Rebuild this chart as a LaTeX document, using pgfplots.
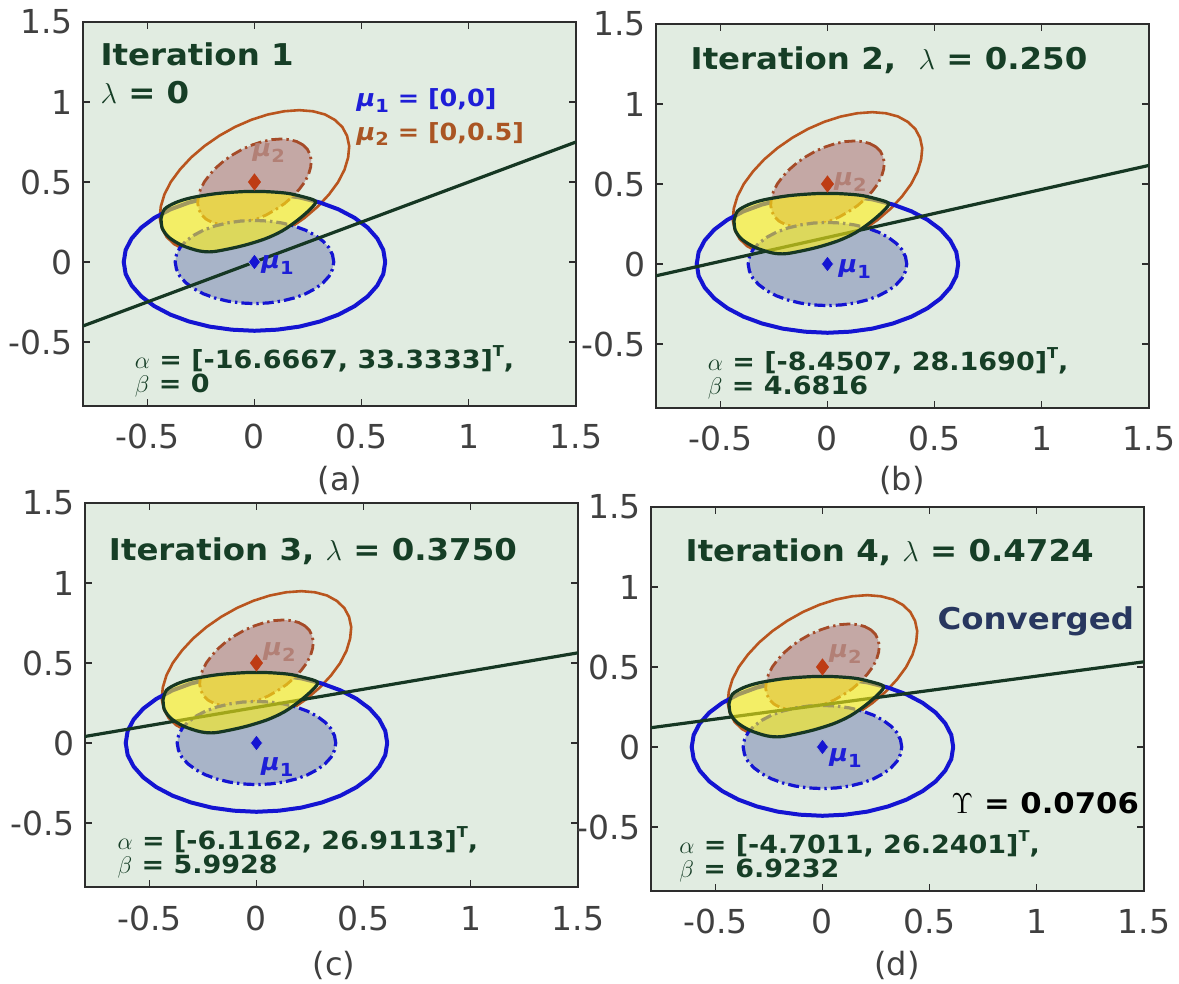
\documentclass[border=0pt]{standalone}
\usepackage{fontspec}
\usepackage{pgfplots}
\usepackage{pgfplotstable}
\pgfplotsset{compat=1.18}

\newfontfamily\djv[FakeStretch=1.08,
  BoldFont={DejaVu Sans Bold},
  ItalicFont={DejaVu Sans Oblique},
  BoldItalicFont={DejaVu Sans Bold Oblique}]{DejaVu Sans}
\newfontfamily\djvplain{DejaVu Sans}

% colours
\definecolor{bgcol}{RGB}{225,236,225}
\definecolor{axgray}{RGB}{45,45,45}
\definecolor{tickgray}{RGB}{64,64,64}
\definecolor{tgreen}{RGB}{22,62,38}
\definecolor{lgreen}{RGB}{22,55,35}
\definecolor{blout}{RGB}{20,20,210}
\definecolor{blfill}{RGB}{168,180,200}
\definecolor{orout}{RGB}{185,85,30}
\definecolor{orin}{RGB}{165,75,40}
\definecolor{orfill}{RGB}{196,168,165}
\definecolor{lensyellow}{RGB}{255,240,20}
\definecolor{mublue}{RGB}{30,30,215}
\definecolor{mubrown}{RGB}{170,85,35}
\definecolor{mufade}{RGB}{178,128,118}
\definecolor{mu2mark}{RGB}{190,60,20}
\definecolor{conv}{RGB}{40,55,95}

\newcommand\tickfont{\djvplain\fontsize{16.5pt}{18pt}\selectfont}
\newcommand\titlefont{\djv\bfseries\fontsize{15pt}{18pt}\selectfont}
\newcommand\notefont{\djv\bfseries\fontsize{11.8pt}{14pt}\selectfont}
\newcommand\abfont{\djv\bfseries\fontsize{12.5pt}{14pt}\selectfont}
\newcommand\upsfont{\djv\bfseries\fontsize{14.2pt}{17pt}\selectfont}
\newcommand\capfont{\djvplain\fontsize{16pt}{18pt}\selectfont}
\newcommand\mus[1]{{\itshape μ}\raisebox{-0.45ex}{\fontsize{9pt}{9pt}\selectfont #1}}
\newcommand\supT{\raisebox{0.9ex}{\fontsize{7.5pt}{8pt}\selectfont T}}

% class 1 contours, centred at (0,0)
\pgfplotstableread{
x y
0.610 0.000
0.601 0.075
0.573 0.147
0.528 0.215
0.467 0.276
0.392 0.329
0.305 0.372
0.209 0.404
0.106 0.423
0.000 0.430
-0.106 0.423
-0.209 0.404
-0.305 0.372
-0.392 0.329
-0.467 0.276
-0.528 0.215
-0.573 0.147
-0.601 0.075
-0.610 0.000
-0.601 -0.075
-0.573 -0.147
-0.528 -0.215
-0.467 -0.276
-0.392 -0.329
-0.305 -0.372
-0.209 -0.404
-0.106 -0.423
0.000 -0.430
0.106 -0.423
0.209 -0.404
0.305 -0.372
0.392 -0.329
0.467 -0.276
0.528 -0.215
0.573 -0.147
0.601 -0.075
0.610 0.000
}\blueouter

\pgfplotstableread{
x y
0.370 0.000
0.364 0.045
0.348 0.089
0.320 0.130
0.283 0.167
0.238 0.199
0.185 0.225
0.127 0.244
0.064 0.256
0.000 0.260
-0.064 0.256
-0.127 0.244
-0.185 0.225
-0.238 0.199
-0.283 0.167
-0.320 0.130
-0.348 0.089
-0.364 0.045
-0.370 0.000
-0.364 -0.045
-0.348 -0.089
-0.320 -0.130
-0.283 -0.167
-0.238 -0.199
-0.185 -0.225
-0.127 -0.244
-0.064 -0.256
0.000 -0.260
0.064 -0.256
0.127 -0.244
0.185 -0.225
0.238 -0.199
0.283 -0.167
0.320 -0.130
0.348 -0.089
0.364 -0.045
0.370 0.000
}\blueinner

% class 2 contours, centred at (0,0.5)
\pgfplotstableread{
x y
0.375 0.888
0.329 0.922
0.273 0.942
0.209 0.949
0.138 0.942
0.063 0.922
-0.014 0.889
-0.091 0.844
-0.164 0.789
-0.233 0.725
-0.295 0.654
-0.347 0.579
-0.390 0.501
-0.420 0.423
-0.437 0.347
-0.442 0.276
-0.432 0.212
-0.410 0.157
-0.375 0.112
-0.329 0.078
-0.273 0.058
-0.209 0.051
-0.138 0.058
-0.063 0.078
0.014 0.111
0.091 0.156
0.164 0.211
0.233 0.275
0.295 0.346
0.347 0.421
0.390 0.499
0.420 0.577
0.437 0.653
0.442 0.724
0.432 0.788
0.410 0.843
0.375 0.888
}\orangeouter

\pgfplotstableread{
x y
0.225 0.733
0.197 0.753
0.164 0.765
0.125 0.769
0.083 0.765
0.038 0.753
-0.008 0.733
-0.055 0.706
-0.098 0.673
-0.140 0.635
-0.177 0.592
-0.208 0.547
-0.234 0.501
-0.252 0.454
-0.262 0.408
-0.265 0.366
-0.259 0.327
-0.246 0.294
-0.225 0.267
-0.197 0.247
-0.164 0.235
-0.125 0.231
-0.083 0.235
-0.038 0.247
0.008 0.267
0.055 0.294
0.098 0.327
0.140 0.365
0.177 0.408
0.208 0.453
0.234 0.499
0.252 0.546
0.262 0.592
0.265 0.634
0.259 0.673
0.246 0.706
0.225 0.733
}\orangeinner

% overlap region
\pgfplotstableread{
x y
-0.436 0.270
-0.420 0.330
-0.370 0.370
-0.300 0.400
-0.180 0.427
-0.050 0.440
0.050 0.440
0.150 0.430
0.220 0.410
0.285 0.380
0.260 0.330
0.200 0.260
0.130 0.195
0.050 0.145
-0.060 0.100
-0.190 0.065
-0.260 0.070
-0.340 0.105
-0.400 0.155
-0.430 0.210
-0.436 0.270
}\lens

\tikzset{txt/.style={anchor=west, inner sep=0pt}}

\pgfplotsset{
  panel/.style={
    scale only axis, width=246.5pt, height=192pt,
    anchor=north west,
    xmin=-0.8, xmax=1.5, ymin=-0.9, ymax=1.5,
    xtick={-0.5,0,0.5,1,1.5}, xticklabels={-0.5,0,0.5,1,1.5},
    ytick={-0.5,0,0.5,1,1.5}, yticklabels={-0.5,0,0.5,1,1.5},
    axis background/.style={fill=bgcol},
    axis line style={draw=axgray, line width=0.7pt},
    major tick style={draw=axgray, line width=0.6pt},
    major tick length=3.5pt,
    tick align=inside,
    xticklabel style={font=\tickfont, text=tickgray, inner sep=0pt, anchor=base, yshift=-21.5pt},
    yticklabel style={font=\tickfont, text=tickgray, inner sep=0pt, anchor=east, xshift=-5pt},
  },
}

\newcommand\drawclasses{%
  \addplot[draw=orout, line width=1.3pt] table {\orangeouter};
  \addplot[draw=blout, line width=2pt] table {\blueouter};
  \addplot[draw=orin, line width=1.4pt, dash pattern=on 5.5pt off 2pt on 1.2pt off 2pt, fill=orfill] table {\orangeinner};
  \addplot[draw=blout, line width=1.6pt, dash pattern=on 5.5pt off 2pt on 1.2pt off 2pt, fill=blfill] table {\blueinner};
}
\newcommand\drawlens{%
  \addplot[smooth, draw=lgreen, line width=1.6pt, fill=lensyellow, fill opacity=0.6] table {\lens};
}
\newcommand\drawmeans{%
  \addplot[only marks, mark=diamond*, mark size=4pt, color=mu2mark] coordinates {(0,0.5)};
  \addplot[only marks, mark=diamond*, mark size=4pt, fill=blout, draw=blfill, mark options={line width=0.3pt}] coordinates {(0,0)};
}

\begin{document}
\begin{tikzpicture}
\useasboundingbox (0,0) rectangle (589.5pt,-492pt);

% (a)
\begin{axis}[panel, at={(41.5pt,-11pt)}]
  \drawclasses
  \addplot[draw=lgreen, line width=1.6pt] coordinates {(-0.8,-0.4) (1.5,0.75)};
  \node[txt, font=\notefont, text=mufade] at (axis cs:-0.01,0.68) {\mus{2}};
  \node[txt, font=\notefont, text=mublue] at (axis cs:0.03,-0.02) {\mus{1}};
  \drawlens
  \drawmeans
  \node[txt, font=\titlefont, text=tgreen] at (axis cs:-0.72,1.30) {Iteration 1};
  \node[txt, font=\titlefont, text=tgreen] at (axis cs:-0.72,1.06) {$\lambda$ = 0};
  \node[txt, font=\notefont, text=mublue] at (axis cs:0.475,1.01) {\mus{1} = [0,0]};
  \node[txt, font=\notefont, text=mubrown] at (axis cs:0.475,0.80) {\mus{2} = [0,0.5]};
  \node[txt, font=\abfont, text=tgreen] at (axis cs:-0.56,-0.605) {$\alpha$ = [-16.6667, 33.3333]\supT,};
  \node[txt, font=\abfont, text=tgreen] at (axis cs:-0.56,-0.77) {$\beta$ = 0};
\end{axis}

% (b)
\begin{axis}[panel, at={(328pt,-12pt)}]
  \drawclasses
  \addplot[draw=lgreen, line width=1.6pt] coordinates {(-0.8,-0.0738) (1.5,0.6162)};
  \node[txt, font=\notefont, text=mufade] at (axis cs:0.03,0.51) {\mus{2}};
  \node[txt, font=\notefont, text=mublue] at (axis cs:0.05,-0.03) {\mus{1}};
  \drawlens
  \drawmeans
  \node[txt, font=\titlefont, text=tgreen] at (axis cs:-0.64,1.275) {Iteration 2,\ \ $\lambda$ = 0.250};
  \node[txt, font=\abfont, text=tgreen] at (axis cs:-0.56,-0.605) {$\alpha$ = [-8.4507, 28.1690]\supT,};
  \node[txt, font=\abfont, text=tgreen] at (axis cs:-0.56,-0.77) {$\beta$ = 4.6816};
\end{axis}

% (c)
\begin{axis}[panel, at={(42.5pt,-251.5pt)}]
  \drawclasses
  \addplot[draw=lgreen, line width=1.6pt] coordinates {(-0.8,0.04087) (1.5,0.56360)};
  \node[txt, font=\notefont, text=mufade] at (axis cs:0.03,0.57) {\mus{2}};
  \node[txt, font=\notefont, text=mublue] at (axis cs:0.02,-0.15) {\mus{1}};
  \drawlens
  \drawmeans
  \node[txt, font=\titlefont, text=tgreen] at (axis cs:-0.69,1.20) {Iteration 3, $\lambda$ = 0.3750};
  \node[txt, font=\abfont, text=tgreen] at (axis cs:-0.65,-0.605) {$\alpha$ = [-6.1162, 26.9113]\supT,};
  \node[txt, font=\abfont, text=tgreen] at (axis cs:-0.65,-0.77) {$\beta$ = 5.9928};
\end{axis}

% (d)
\begin{axis}[panel, at={(325.5pt,-253.5pt)}]
  \drawclasses
  \addplot[draw=lgreen, line width=1.6pt] coordinates {(-0.8,0.12051) (1.5,0.53258)};
  \node[txt, font=\notefont, text=mufade] at (axis cs:0.03,0.58) {\mus{2}};
  \node[txt, font=\notefont, text=mublue] at (axis cs:0.03,-0.07) {\mus{1}};
  \drawlens
  \drawmeans
  \node[txt, font=\titlefont, text=tgreen] at (axis cs:-0.64,1.22) {Iteration 4, $\lambda$ = 0.4724};
  \node[txt, font=\titlefont, text=conv] at (axis cs:0.535,0.785) {Converged};
  \node[txt, font=\upsfont, text=black] at (axis cs:0.60,-0.35) {$\Upsilon$ = 0.0706};
  \node[txt, font=\abfont, text=tgreen] at (axis cs:-0.67,-0.605) {$\alpha$ = [-4.7011, 26.2401]\supT,};
  \node[txt, font=\abfont, text=tgreen] at (axis cs:-0.67,-0.77) {$\beta$ = 6.9232};
\end{axis}

% panel letters
\node[font=\capfont, text=tickgray] at (170pt,-240pt) {(a)};
\node[font=\capfont, text=tickgray] at (451pt,-240pt) {(b)};
\node[font=\capfont, text=tickgray] at (167pt,-482.5pt) {(c)};
\node[font=\capfont, text=tickgray] at (448.5pt,-482.5pt) {(d)};
\end{tikzpicture}
\end{document}
